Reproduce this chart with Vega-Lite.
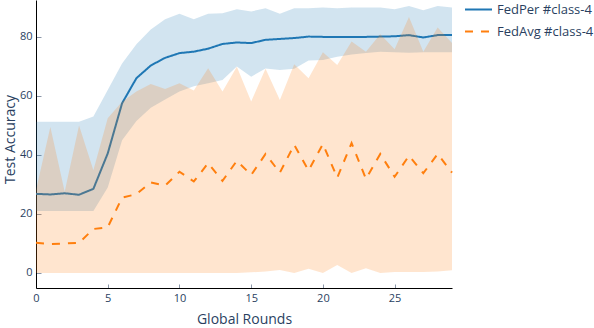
{
  "$schema": "https://vega.github.io/schema/vega-lite/v6.json",
  "width": 416,
  "height": 288,
  "autosize": {"type": "none"},
  "padding": {"left": 36, "top": 0, "right": 142, "bottom": 40},
  "background": "white",
  "config": {
    "view": {"stroke": null},
    "font": "Open Sans",
    "axis": {
      "domainColor": "black",
      "domainWidth": 1,
      "grid": false,
      "tickColor": "#8a96a8",
      "tickWidth": 1,
      "labelFontSize": 11,
      "labelColor": "#2a3f5f",
      "labelFont": "Open Sans",
      "titleFont": "Open Sans",
      "titleFontSize": 14,
      "titleColor": "#2a3f5f",
      "titleFontWeight": "normal"
    },
    "legend": {
      "symbolType": "stroke",
      "symbolSize": 729,
      "symbolStrokeWidth": 2,
      "labelFontSize": 13,
      "labelFont": "Open Sans",
      "labelColor": "#2a3f5f",
      "labelOffset": 4,
      "rowPadding": 0,
      "padding": 0
    }
  },
  "data": {
    "values": [
      {"round": 0, "method": "FedPer #class-4", "mean": 26.8, "lo": 21, "hi": 51.2},
      {"round": 1, "method": "FedPer #class-4", "mean": 26.6, "lo": 21, "hi": 51.2},
      {"round": 2, "method": "FedPer #class-4", "mean": 27.0, "lo": 21, "hi": 51.2},
      {"round": 3, "method": "FedPer #class-4", "mean": 26.5, "lo": 21, "hi": 51.2},
      {"round": 4, "method": "FedPer #class-4", "mean": 28.5, "lo": 21, "hi": 53},
      {"round": 5, "method": "FedPer #class-4", "mean": 40.5, "lo": 29, "hi": 62},
      {"round": 6, "method": "FedPer #class-4", "mean": 57.5, "lo": 45, "hi": 71},
      {"round": 7, "method": "FedPer #class-4", "mean": 66.0, "lo": 51.5, "hi": 77.5},
      {"round": 8, "method": "FedPer #class-4", "mean": 70.3, "lo": 56, "hi": 82.5},
      {"round": 9, "method": "FedPer #class-4", "mean": 72.9, "lo": 58.8, "hi": 86},
      {"round": 10, "method": "FedPer #class-4", "mean": 74.5, "lo": 61.5, "hi": 87.8},
      {"round": 11, "method": "FedPer #class-4", "mean": 75.0, "lo": 63.3, "hi": 86},
      {"round": 12, "method": "FedPer #class-4", "mean": 76.0, "lo": 64.3, "hi": 87.8},
      {"round": 13, "method": "FedPer #class-4", "mean": 77.6, "lo": 65.4, "hi": 88},
      {"round": 14, "method": "FedPer #class-4", "mean": 78.1, "lo": 70, "hi": 89.4},
      {"round": 15, "method": "FedPer #class-4", "mean": 77.9, "lo": 66.5, "hi": 88.6},
      {"round": 16, "method": "FedPer #class-4", "mean": 79.0, "lo": 69.3, "hi": 89.7},
      {"round": 17, "method": "FedPer #class-4", "mean": 79.3, "lo": 68.8, "hi": 87.8},
      {"round": 18, "method": "FedPer #class-4", "mean": 79.6, "lo": 69.2, "hi": 89.7},
      {"round": 19, "method": "FedPer #class-4", "mean": 80.1, "lo": 72, "hi": 89.7},
      {"round": 20, "method": "FedPer #class-4", "mean": 80.0, "lo": 72.2, "hi": 90},
      {"round": 21, "method": "FedPer #class-4", "mean": 80.0, "lo": 73.3, "hi": 89.7},
      {"round": 22, "method": "FedPer #class-4", "mean": 80.0, "lo": 74, "hi": 90},
      {"round": 23, "method": "FedPer #class-4", "mean": 80.0, "lo": 74.5, "hi": 90},
      {"round": 24, "method": "FedPer #class-4", "mean": 80.1, "lo": 75, "hi": 90},
      {"round": 25, "method": "FedPer #class-4", "mean": 80.2, "lo": 74.8, "hi": 89.4},
      {"round": 26, "method": "FedPer #class-4", "mean": 80.6, "lo": 74.6, "hi": 90.5},
      {"round": 27, "method": "FedPer #class-4", "mean": 79.8, "lo": 74.8, "hi": 89},
      {"round": 28, "method": "FedPer #class-4", "mean": 80.6, "lo": 74.8, "hi": 90.5},
      {"round": 29, "method": "FedPer #class-4", "mean": 80.6, "lo": 74.8, "hi": 90},
      {"round": 0, "method": "FedAvg #class-4", "mean": 10.2, "lo": 0, "hi": 28},
      {"round": 1, "method": "FedAvg #class-4", "mean": 9.8, "lo": 0, "hi": 49.5},
      {"round": 2, "method": "FedAvg #class-4", "mean": 10.0, "lo": 0, "hi": 27.5},
      {"round": 3, "method": "FedAvg #class-4", "mean": 10.2, "lo": 0, "hi": 50},
      {"round": 4, "method": "FedAvg #class-4", "mean": 14.9, "lo": 0, "hi": 34.8},
      {"round": 5, "method": "FedAvg #class-4", "mean": 15.5, "lo": 0, "hi": 52.4},
      {"round": 6, "method": "FedAvg #class-4", "mean": 25.5, "lo": 0, "hi": 58},
      {"round": 7, "method": "FedAvg #class-4", "mean": 26.7, "lo": 0, "hi": 61.5},
      {"round": 8, "method": "FedAvg #class-4", "mean": 30.7, "lo": 0, "hi": 64},
      {"round": 9, "method": "FedAvg #class-4", "mean": 29.6, "lo": 0, "hi": 62.3},
      {"round": 10, "method": "FedAvg #class-4", "mean": 34.3, "lo": 0, "hi": 64.3},
      {"round": 11, "method": "FedAvg #class-4", "mean": 31.0, "lo": 0, "hi": 61.8},
      {"round": 12, "method": "FedAvg #class-4", "mean": 37.2, "lo": 0, "hi": 69.4},
      {"round": 13, "method": "FedAvg #class-4", "mean": 31.2, "lo": 0, "hi": 61.5},
      {"round": 14, "method": "FedAvg #class-4", "mean": 38.0, "lo": 0, "hi": 69.9},
      {"round": 15, "method": "FedAvg #class-4", "mean": 33.2, "lo": 0.2, "hi": 58.1},
      {"round": 16, "method": "FedAvg #class-4", "mean": 40.3, "lo": 0.5, "hi": 69.2},
      {"round": 17, "method": "FedAvg #class-4", "mean": 34.0, "lo": 1.0, "hi": 58.6},
      {"round": 18, "method": "FedAvg #class-4", "mean": 43.4, "lo": 0, "hi": 70.7},
      {"round": 19, "method": "FedAvg #class-4", "mean": 34.7, "lo": 1.4, "hi": 66},
      {"round": 20, "method": "FedAvg #class-4", "mean": 43.7, "lo": 0, "hi": 74.8},
      {"round": 21, "method": "FedAvg #class-4", "mean": 32.3, "lo": 2.7, "hi": 70.5},
      {"round": 22, "method": "FedAvg #class-4", "mean": 44.0, "lo": 0, "hi": 78.4},
      {"round": 23, "method": "FedAvg #class-4", "mean": 31.9, "lo": 1.6, "hi": 75},
      {"round": 24, "method": "FedAvg #class-4", "mean": 40.3, "lo": 0, "hi": 80.9},
      {"round": 25, "method": "FedAvg #class-4", "mean": 32.6, "lo": 0.3, "hi": 75.8},
      {"round": 26, "method": "FedAvg #class-4", "mean": 39.7, "lo": 0.3, "hi": 86.7},
      {"round": 27, "method": "FedAvg #class-4", "mean": 33.8, "lo": 0.3, "hi": 75},
      {"round": 28, "method": "FedAvg #class-4", "mean": 40.3, "lo": 0.5, "hi": 83.2},
      {"round": 29, "method": "FedAvg #class-4", "mean": 34.0, "lo": 0.9, "hi": 77.9}
    ]
  },
  "layer": [
    {
      "transform": [{"filter": "datum.method === 'FedPer #class-4'"}],
      "mark": {"type": "area", "color": "#1f77b4", "opacity": 0.2},
      "encoding": {
        "x": {
          "field": "round", "type": "quantitative",
          "scale": {"domain": [0, 29], "nice": false, "zero": false},
          "axis": {
            "values": [0, 5, 10, 15, 20, 25],
            "title": "Global Rounds",
            "tickSize": -4,
            "labelPadding": 8,
            "labelFlush": false,
            "titleY": 35.5,
            "titleBaseline": "alphabetic"
          }
        },
        "y": {
          "field": "lo", "type": "quantitative",
          "scale": {"domain": [-5.1, 92.5], "nice": false, "zero": false},
          "axis": {
            "values": [0, 20, 40, 60, 80],
            "title": "Test Accuracy",
            "tickSize": -5,
            "labelPadding": 9,
            "titleX": -22,
            "titleY": 139,
            "titleAngle": -90,
            "titleAlign": "center",
            "titleBaseline": "alphabetic"
          }
        },
        "y2": {"field": "hi"}
      }
    },
    {
      "transform": [{"filter": "datum.method === 'FedPer #class-4'"}],
      "mark": {"type": "line", "strokeWidth": 2},
      "encoding": {
        "x": {"field": "round", "type": "quantitative"},
        "y": {"field": "mean", "type": "quantitative"},
        "color": {
          "field": "method", "type": "nominal",
          "scale": {"domain": ["FedPer #class-4", "FedAvg #class-4"], "range": ["#1f77b4", "#ff7f0e"]},
          "legend": {"title": null, "orient": "none", "legendX": 428, "legendY": -5}
        },
        "strokeDash": {
          "field": "method", "type": "nominal",
          "scale": {"domain": ["FedPer #class-4", "FedAvg #class-4"], "range": [[1, 0], [8, 8]]},
          "legend": {"title": null, "orient": "none", "legendX": 428, "legendY": -5}
        }
      }
    },
    {
      "transform": [{"filter": "datum.method === 'FedAvg #class-4'"}],
      "mark": {"type": "area", "color": "#ff7f0e", "opacity": 0.2},
      "encoding": {
        "x": {"field": "round", "type": "quantitative"},
        "y": {"field": "lo", "type": "quantitative"},
        "y2": {"field": "hi"}
      }
    },
    {
      "transform": [{"filter": "datum.method === 'FedAvg #class-4'"}],
      "mark": {"type": "line", "strokeWidth": 2},
      "encoding": {
        "x": {"field": "round", "type": "quantitative"},
        "y": {"field": "mean", "type": "quantitative"},
        "color": {"field": "method", "type": "nominal"},
        "strokeDash": {"field": "method", "type": "nominal"}
      }
    }
  ]
}
